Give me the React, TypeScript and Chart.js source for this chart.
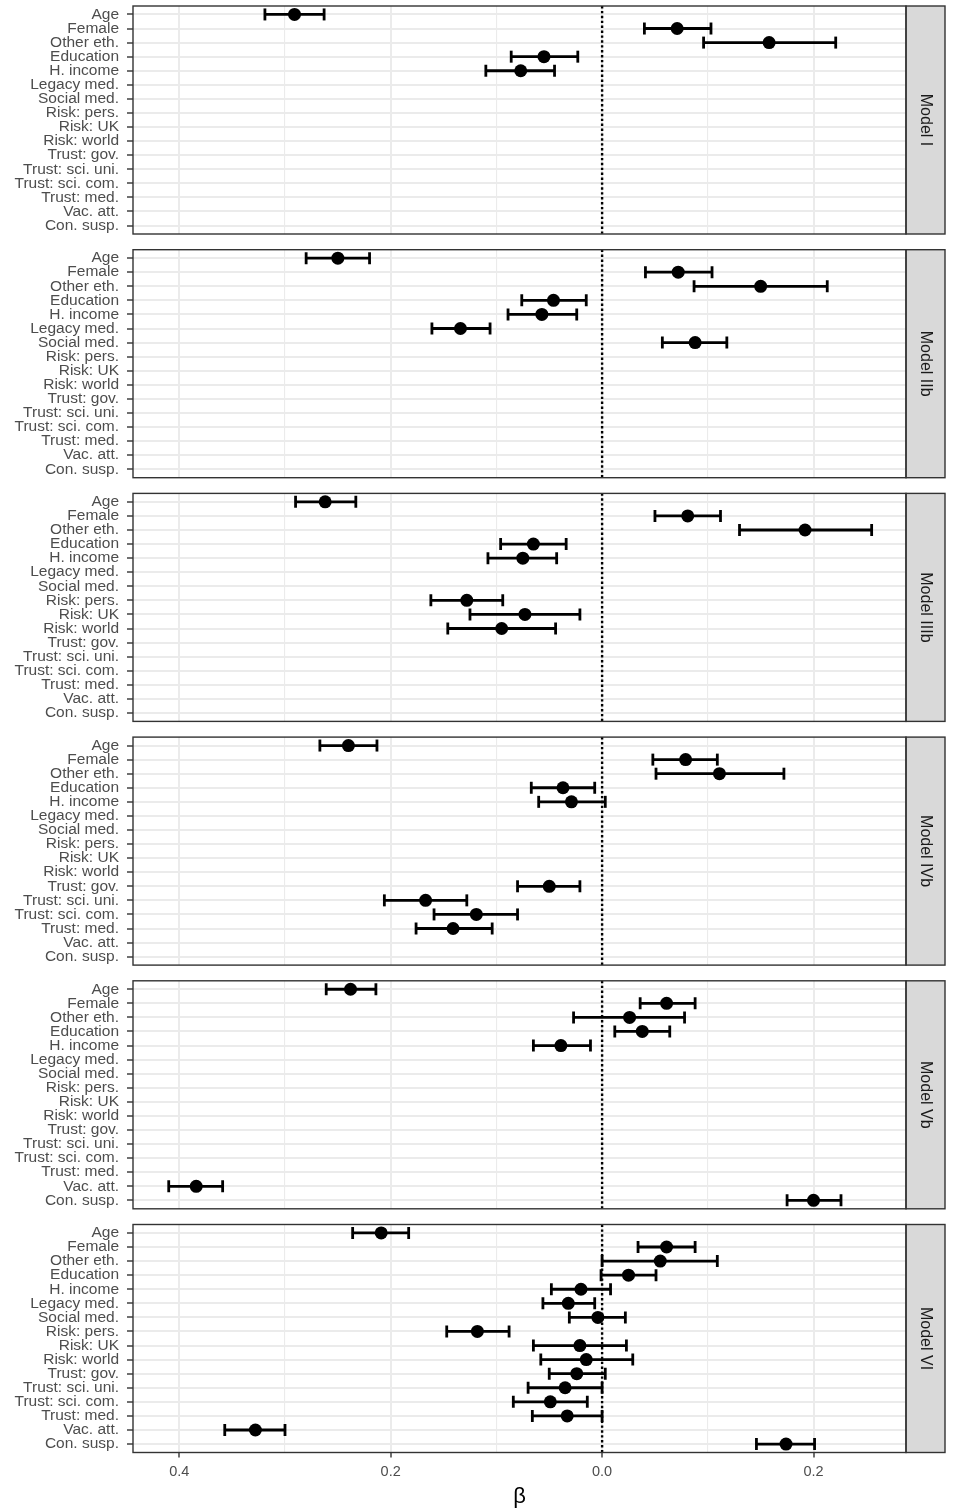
import React, { useEffect, useRef } from 'react';
import { Chart, registerables } from 'chart.js';

Chart.register(...registerables);

const FONT = '"Liberation Sans", Arial, Helvetica, sans-serif';

const CATEGORIES = [
  'Age', 'Female', 'Other eth.', 'Education', 'H. income', 'Legacy med.', 'Social med.',
  'Risk: pers.', 'Risk: UK', 'Risk: world', 'Trust: gov.', 'Trust: sci. uni.',
  'Trust: sci. com.', 'Trust: med.', 'Vac. att.', 'Con. susp.',
];

const MODEL_NAMES = ['Model I', 'Model IIb', 'Model IIIb', 'Model IVb', 'Model Vb', 'Model VI'];

const X_GRID = [-0.4, -0.3, -0.2, -0.1, 0, 0.1, 0.2];
const X_TICK_LABELS = ['0.4', '', '0.2', '', '0.0', '', '0.2'];
const X_TITLE = 'β';

const _ = null;

const MODEL_I_EST = [-0.291, 0.071, 0.158, -0.055, -0.077, _, _, _, _, _, _, _, _, _, _, _];
const MODEL_I_LO = [-0.319, 0.040, 0.096, -0.086, -0.110, _, _, _, _, _, _, _, _, _, _, _];
const MODEL_I_HI = [-0.263, 0.103, 0.221, -0.023, -0.045, _, _, _, _, _, _, _, _, _, _, _];

const MODEL_IIB_EST = [-0.250, 0.072, 0.150, -0.046, -0.057, -0.134, 0.088, _, _, _, _, _, _, _, _, _];
const MODEL_IIB_LO = [-0.280, 0.041, 0.087, -0.076, -0.089, -0.161, 0.057, _, _, _, _, _, _, _, _, _];
const MODEL_IIB_HI = [-0.220, 0.104, 0.213, -0.015, -0.024, -0.106, 0.118, _, _, _, _, _, _, _, _, _];

const MODEL_IIIB_EST = [-0.262, 0.081, 0.192, -0.065, -0.075, _, _, -0.128, -0.073, -0.095, _, _, _, _, _, _];
const MODEL_IIIB_LO = [-0.290, 0.050, 0.130, -0.096, -0.108, _, _, -0.162, -0.125, -0.146, _, _, _, _, _, _];
const MODEL_IIIB_HI = [-0.233, 0.112, 0.255, -0.034, -0.043, _, _, -0.094, -0.021, -0.044, _, _, _, _, _, _];

const MODEL_IVB_EST = [-0.240, 0.079, 0.111, -0.037, -0.029, _, _, _, _, _, -0.050, -0.167, -0.119, -0.141, _, _];
const MODEL_IVB_LO = [-0.267, 0.048, 0.051, -0.067, -0.060, _, _, _, _, _, -0.080, -0.206, -0.159, -0.176, _, _];
const MODEL_IVB_HI = [-0.213, 0.109, 0.172, -0.007, 0.003, _, _, _, _, _, -0.021, -0.128, -0.080, -0.104, _, _];

const MODEL_VB_EST = [-0.238, 0.061, 0.026, 0.038, -0.039, _, _, _, _, _, _, _, _, _, -0.384, 0.200];
const MODEL_VB_LO = [-0.261, 0.036, -0.027, 0.012, -0.065, _, _, _, _, _, _, _, _, _, -0.410, 0.175];
const MODEL_VB_HI = [-0.214, 0.088, 0.078, 0.064, -0.011, _, _, _, _, _, _, _, _, _, -0.359, 0.226];

const MODEL_VI_EST = [-0.209, 0.061, 0.055, 0.025, -0.020, -0.032, -0.004, -0.118, -0.021, -0.015, -0.024, -0.035, -0.049, -0.033, -0.328, 0.174];
const MODEL_VI_LO = [-0.236, 0.034, 0.000, -0.001, -0.048, -0.056, -0.031, -0.147, -0.065, -0.058, -0.050, -0.070, -0.084, -0.066, -0.357, 0.146];
const MODEL_VI_HI = [-0.183, 0.088, 0.109, 0.051, 0.008, -0.007, 0.022, -0.088, 0.023, 0.029, 0.003, 0.000, -0.014, 0.000, -0.300, 0.201];

const MODELS = [
  { est: MODEL_I_EST, lo: MODEL_I_LO, hi: MODEL_I_HI },
  { est: MODEL_IIB_EST, lo: MODEL_IIB_LO, hi: MODEL_IIB_HI },
  { est: MODEL_IIIB_EST, lo: MODEL_IIIB_LO, hi: MODEL_IIIB_HI },
  { est: MODEL_IVB_EST, lo: MODEL_IVB_LO, hi: MODEL_IVB_HI },
  { est: MODEL_VB_EST, lo: MODEL_VB_LO, hi: MODEL_VB_HI },
  { est: MODEL_VI_EST, lo: MODEL_VI_LO, hi: MODEL_VI_HI },
];

// layout
const W = 954;
const H = 1511;
const PANEL_LEFT = 133;
const PANEL_RIGHT = 906;
const STRIP_W = 39;
const PANEL_H = 228;
const PANEL_STEP = 243.7;
const FIRST_TOP = 6;
const PAD = 18;
const XAXIS_H = 58;
const X_MIN = -0.4438;
const X_MAX = 0.2875;

const isMajor = (v: number) => Math.round(v * 10) % 2 === 0;

function Panel({ index }: { index: number }) {
  const ref = useRef<HTMLCanvasElement | null>(null);
  const isLast = index === MODELS.length - 1;
  const panelTop = FIRST_TOP + index * PANEL_STEP;
  const canvasTop = Math.floor(panelTop) - PAD;
  const padTop = panelTop - canvasTop;
  const canvasH = isLast ? H - canvasTop : Math.ceil(padTop + PANEL_H + PAD);
  const padBottom = isLast ? canvasH - padTop - PANEL_H - XAXIS_H : canvasH - padTop - PANEL_H;

  useEffect(() => {
    const m = MODELS[index];
    const datasets: any[] = [];
    m.est.forEach((e, i) => {
      if (e == null) return;
      datasets.push({
        data: [{ x: m.lo[i], y: i }, { x: m.hi[i], y: i }],
        showLine: true,
        borderColor: '#000',
        borderWidth: 2.8,
        pointStyle: 'line',
        pointRotation: 90,
        pointRadius: 6,
        pointHoverRadius: 6,
        pointBorderColor: '#000',
        pointBackgroundColor: '#000',
        pointBorderWidth: 2.8,
      });
    });
    datasets.push({
      data: m.est.map((e, i) => (e == null ? null : { x: e, y: i })).filter((d) => d !== null),
      showLine: false,
      pointRadius: 6.5,
      pointHoverRadius: 6.5,
      pointBackgroundColor: '#000',
      pointBorderWidth: 0,
      pointBorderColor: '#000',
    });

    const deco = {
      id: 'deco',
      beforeDatasetsDraw(chart: any) {
        const { ctx, chartArea } = chart;
        const x0 = chart.scales.x.getPixelForValue(0);
        ctx.save();
        ctx.strokeStyle = '#000';
        ctx.lineWidth = 2.4;
        ctx.setLineDash([2.4, 2.5]);
        ctx.beginPath();
        ctx.moveTo(x0, chartArea.top);
        ctx.lineTo(x0, chartArea.bottom);
        ctx.stroke();
        ctx.restore();
      },
      afterDraw(chart: any) {
        const { ctx, chartArea } = chart;
        const { left, top, right, bottom } = chartArea;
        ctx.save();
        // strip
        ctx.fillStyle = '#D9D9D9';
        ctx.fillRect(right, top, STRIP_W, bottom - top);
        ctx.strokeStyle = '#333333';
        ctx.lineWidth = 1.4;
        ctx.strokeRect(right, top, STRIP_W, bottom - top);
        // panel border
        ctx.strokeRect(left, top, right - left, bottom - top);
        // strip text
        ctx.translate(right + STRIP_W / 2, (top + bottom) / 2);
        ctx.rotate(Math.PI / 2);
        ctx.fillStyle = '#1A1A1A';
        ctx.font = `16px ${FONT}`;
        ctx.textAlign = 'center';
        ctx.textBaseline = 'middle';
        ctx.fillText(MODEL_NAMES[index], 0, 0);
        ctx.restore();
      },
    };

    const chart = new Chart(ref.current as HTMLCanvasElement, {
      type: 'scatter',
      data: { datasets },
      options: {
        animation: false,
        responsive: false,
        devicePixelRatio: 1,
        events: [],
        layout: { padding: { left: 0, right: W - PANEL_RIGHT, top: padTop, bottom: padBottom } },
        plugins: { legend: { display: false }, tooltip: { enabled: false } },
        scales: {
          x: {
            type: 'linear',
            min: X_MIN,
            max: X_MAX,
            afterBuildTicks: (s: any) => {
              s.ticks = X_GRID.map((v) => ({ value: v }));
            },
            afterFit: (s: any) => {
              s.height = isLast ? XAXIS_H : 0;
            },
            border: { display: false },
            grid: {
              color: '#EBEBEB',
              lineWidth: (c: any) => (c.tick && isMajor(c.tick.value) ? 2 : 1.1),
              drawTicks: isLast,
              tickLength: 5,
              tickWidth: 1.4,
              tickColor: (c: any) => (c.tick && isMajor(c.tick.value) ? '#333333' : 'rgba(0,0,0,0)'),
            },
            ticks: {
              display: isLast,
              autoSkip: false,
              maxRotation: 0,
              padding: 6,
              color: '#4D4D4D',
              font: { family: FONT, size: 14.5 },
              callback: (_v: any, i: number) => X_TICK_LABELS[i],
            },
            title: {
              display: isLast,
              text: X_TITLE,
              color: '#000',
              font: { family: FONT, size: 22 },
              padding: { top: 0, bottom: 0 },
            },
          },
          y: {
            type: 'linear',
            min: -0.6,
            max: CATEGORIES.length - 1 + 0.6,
            reverse: true,
            afterBuildTicks: (s: any) => {
              s.ticks = CATEGORIES.map((_c, i) => ({ value: i }));
            },
            afterFit: (s: any) => {
              s.width = PANEL_LEFT;
            },
            border: { display: false },
            grid: {
              color: '#EBEBEB',
              lineWidth: 2,
              tickLength: 6,
              tickWidth: 1.4,
              tickColor: '#333333',
            },
            ticks: {
              autoSkip: false,
              padding: 8,
              color: '#4D4D4D',
              font: { family: FONT, size: 15.5, lineHeight: 1 },
              callback: (_v: any, i: number) => CATEGORIES[i],
            },
          },
        },
      },
      plugins: [deco],
    } as any);
    return () => chart.destroy();
  }, [index]);

  return (
    <canvas
      ref={ref}
      width={W}
      height={canvasH}
      style={{ position: 'absolute', left: 0, top: canvasTop, width: W, height: canvasH, display: 'block' }}
    />
  );
}

export default function App() {
  return (
    <div style={{ position: 'absolute', left: 0, top: 0, width: W, height: H, background: '#fff', overflow: 'hidden' }}>
      {MODELS.map((_m, i) => (
        <Panel key={i} index={i} />
      ))}
    </div>
  );
}
